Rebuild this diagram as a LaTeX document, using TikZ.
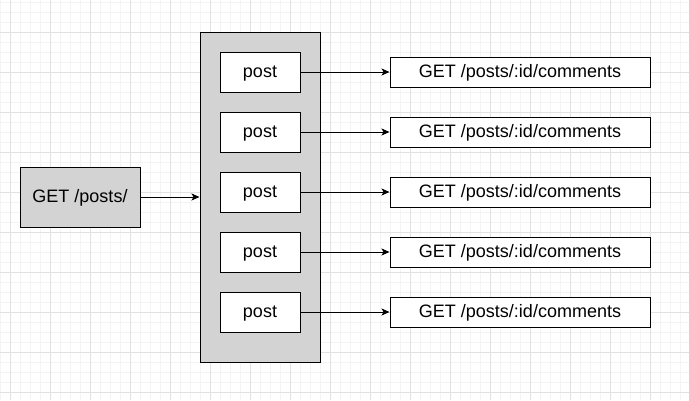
\documentclass[tikz,border=0pt]{standalone}
\usepackage{fontspec}
\setmainfont{Liberation Sans}
\usetikzlibrary{arrows.meta}
\definecolor{boxgray}{HTML}{D3D3D3}
\definecolor{minorgrid}{HTML}{F4F4F4}
\definecolor{majorgrid}{HTML}{E2E2E2}
\tikzset{
  txt/.style={font=\fontsize{18}{20}\selectfont, text height=13pt, text depth=2pt},
  graybox/.style={draw=black, fill=boxgray, line width=1pt, inner sep=0pt, txt},
  postbox/.style={draw=black, fill=white, line width=1pt, minimum width=80pt, minimum height=40pt, inner sep=0pt, txt},
  getbox/.style={draw=black, fill=white, line width=1pt, minimum width=260pt, minimum height=30pt, inner sep=0pt, txt},
  conn/.style={draw=black, line width=1pt, -{Stealth[length=8pt,width=7pt,inset=2pt]}}
}
\begin{document}
\begin{tikzpicture}[x=1pt,y=-1pt]
\useasboundingbox (0,0) rectangle (689,400);
\fill[white] (0,0) rectangle (689,400);
% grid
\foreach \gx in {0,10,...,680} { \draw[minorgrid, line width=1pt] (\gx,0) -- (\gx,400); }
\foreach \gy in {2,12,...,392} { \draw[minorgrid, line width=1pt] (0,\gy) -- (689,\gy); }
\foreach \gx in {10,50,...,650} { \draw[majorgrid, line width=1pt] (\gx,0) -- (\gx,400); }
\foreach \gy in {32,72,...,392} { \draw[majorgrid, line width=1pt] (0,\gy) -- (689,\gy); }
% nodes
\node[graybox, minimum width=120pt, minimum height=60pt] (get) at (80,197) {GET /posts/};
\node[graybox, minimum width=120pt, minimum height=330pt] (cont) at (260,197) {};
\foreach \i/\yy in {1/72,2/132,3/192,4/252,5/312} {
  \node[postbox] (p\i) at (260,\yy) {post};
  \node[getbox] (c\i) at (520,\yy) {GET /posts/:id/comments};
  \draw[conn] (p\i.east) -- (c\i.west);
}
\draw[conn] (get.east) -- (cont.west);
\end{tikzpicture}
\end{document}
